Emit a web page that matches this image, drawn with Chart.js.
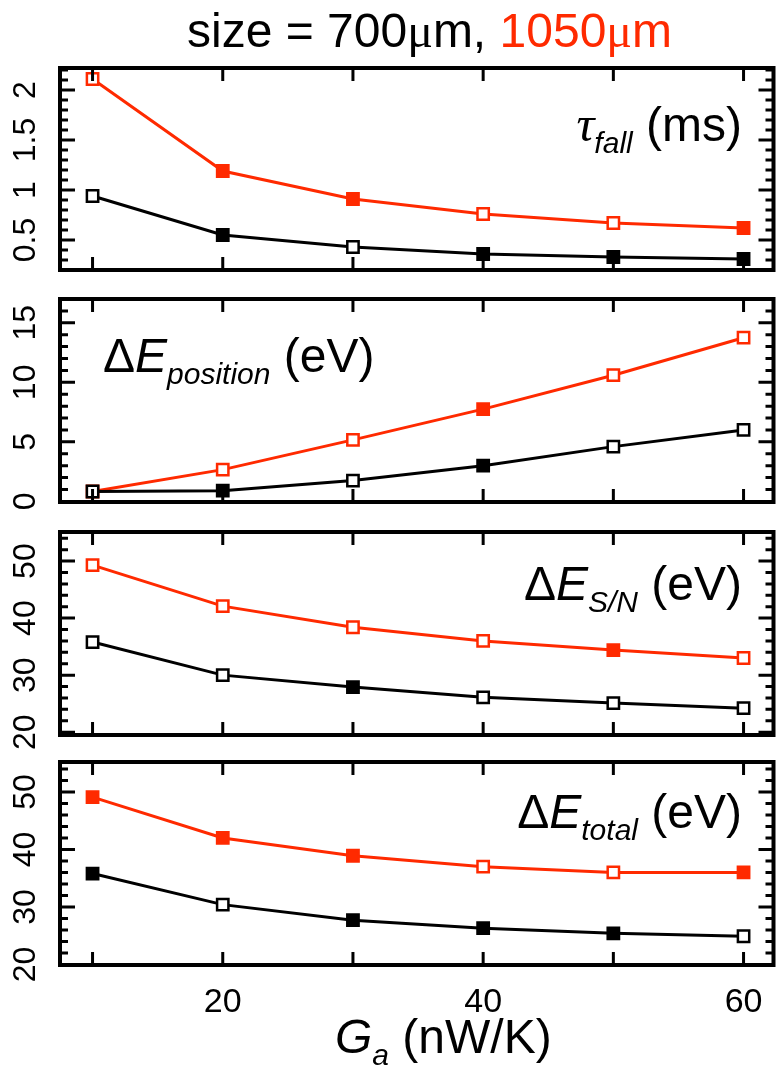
<!DOCTYPE html>
<html><head><meta charset="utf-8">
<script src="https://cdn.jsdelivr.net/npm/chart.js@4.4.1/dist/chart.umd.min.js"></script>
<style>
html,body{margin:0;padding:0;background:#fff;width:784px;height:1071px;overflow:hidden;}
canvas{position:absolute;left:0;}
</style></head><body>
<canvas id="c1"></canvas>
<canvas id="c2"></canvas>
<canvas id="c3"></canvas>
<canvas id="c4"></canvas>
<script>
// ---- data ----
const gaValues = [10, 20, 30, 40, 50, 60];          // G_a (nW/K)
const xTickLabels = [20, 40, 60];
const tauFall700  = [0.94, 0.55, 0.43, 0.36, 0.33, 0.31];
const tauFall1050 = [2.11, 1.19, 0.91, 0.76, 0.67, 0.62];
const posRes700   = [0.83, 0.90, 1.75, 3.00, 4.60, 6.00];
const posRes1050  = [0.83, 2.67, 5.17, 7.75, 10.6, 13.75];
const snRes700    = [35.8, 30.0, 27.9, 26.1, 25.1, 24.2];
const snRes1050   = [49.3, 42.1, 38.4, 36.0, 34.4, 33.0];
const totRes700   = [35.8, 30.4, 27.7, 26.3, 25.4, 24.9];
const totRes1050  = [49.1, 42.0, 38.9, 37.0, 36.0, 36.0];
const tauTicks = ['0.5', '1', '1.5', '2'];
const posTicks = ['0', '5', '10', '15'];
const snTicks  = ['20', '30', '40', '50'];
const totTicks = ['20', '30', '40', '50'];

// ---- styles ----
const RED = '#ff2a00', BLACK = '#000000';
const FONT = '"Liberation Sans", Arial, Helvetica, sans-serif';
const SERIF = '"Liberation Serif", "DejaVu Serif", serif';
// which markers look filled (style only)
const fill = {
  p1: {a: [0,1,0,1,1,1], b: [0,1,1,0,0,1]},
  p2: {a: [0,1,0,1,0,0], b: [0,0,0,1,0,0]},
  p3: {a: [0,0,1,0,0,0], b: [0,0,0,0,1,0]},
  p4: {a: [1,0,1,1,1,0], b: [1,1,1,0,0,1]}
};

function drawRich(ctx, parts, x, y, align) {
  let total = 0;
  for (const p of parts) { ctx.font = p.font; total += ctx.measureText(p.t).width; }
  let cx = align === 'right' ? x - total : (align === 'center' ? x - total / 2 : x);
  ctx.textAlign = 'left'; ctx.textBaseline = 'alphabetic';
  for (const p of parts) {
    ctx.font = p.font; ctx.fillStyle = p.color || '#000';
    ctx.fillText(p.t, cx, y + (p.dy || 0));
    cx += ctx.measureText(p.t).width;
  }
}

const framePlugin = {
  id: 'frame',
  afterDraw(chart) {
    const p = chart.options.plugins.frame;
    const {ctx, chartArea: a} = chart;
    const x = chart.scales.x, y = chart.scales.y;
    ctx.save();
    ctx.strokeStyle = '#000'; ctx.lineCap = 'butt';
    ctx.lineWidth = 3;
    ctx.beginPath();
    for (const v of gaValues) {
      const px = x.getPixelForValue(v);
      ctx.moveTo(px, a.bottom); ctx.lineTo(px, a.bottom - 13);
      ctx.moveTo(px, a.top); ctx.lineTo(px, a.top + 13);
    }
    const majorVals = p.yLabels.map(Number);
    const n = Math.round((p.yMax - p.yMin) / p.minorStep) + 2;
    for (let i = -1; i < n; i++) {
      const v = Math.round((Math.ceil(p.yMin / p.minorStep) + i) * p.minorStep * 1000) / 1000;
      if (v < p.yMin || v > p.yMax) continue;
      const isMajor = majorVals.some(m => Math.abs(m - v) < 1e-6);
      const len = isMajor ? 15 : 8;
      const py = y.getPixelForValue(v);
      ctx.moveTo(a.left, py); ctx.lineTo(a.left + len, py);
      ctx.moveTo(a.right, py); ctx.lineTo(a.right - len, py);
    }
    ctx.stroke();
    ctx.lineWidth = 4;
    ctx.strokeRect(a.left, a.top, a.right - a.left, a.bottom - a.top);
    // rotated y tick labels
    ctx.fillStyle = '#000'; ctx.font = '32px ' + FONT;
    ctx.textAlign = 'center'; ctx.textBaseline = 'alphabetic';
    p.yLabels.forEach(t => {
      const py = y.getPixelForValue(Number(t));
      ctx.save(); ctx.translate(35, py); ctx.rotate(-Math.PI / 2);
      ctx.fillText(t, 0, 0); ctx.restore();
    });
    for (const t of p.texts) drawRich(ctx, t.parts, t.x, t.y - p.top, t.align);
    ctx.restore();
  }
};

const panels = [
  {id: 'c1', top: 0, height: 290, padTop: 68, padBottom: 20, yMin: 0.2, yMax: 2.22, minorStep: 0.1,
   yLabels: tauTicks, a: tauFall700, b: tauFall1050, f: fill.p1,
   texts: [
     {x: 187, y: 47, align: 'left', parts: [
       {t: 'size = 700', font: '48px ' + FONT},
       {t: 'μ', font: '48px ' + SERIF},
       {t: 'm, ', font: '48px ' + FONT},
       {t: '1050', font: '48px ' + FONT, color: RED},
       {t: 'μ', font: '48px ' + SERIF, color: RED},
       {t: 'm', font: '48px ' + FONT, color: RED}]},
     {x: 742, y: 141, align: 'right', parts: [
       {t: 'τ', font: 'italic 50px ' + SERIF},
       {t: 'fall', font: 'italic 30px ' + FONT, dy: 12},
       {t: ' (ms)', font: '48px ' + FONT}]}
   ]},
  {id: 'c2', top: 279, height: 243, padTop: 20, padBottom: 20, yMin: -0.05, yMax: 17.0, minorStep: 1,
   yLabels: posTicks, a: posRes700, b: posRes1050, f: fill.p2,
   texts: [
     {x: 103, y: 372, align: 'left', parts: [
       {t: 'Δ', font: '48px ' + FONT},
       {t: 'E', font: 'italic 48px ' + FONT},
       {t: 'position', font: 'italic 30px ' + FONT, dy: 12},
       {t: ' (eV)', font: '48px ' + FONT}]}
   ]},
  {id: 'c3', top: 512, height: 243, padTop: 20, padBottom: 20, yMin: 19.5, yMax: 55.1, minorStep: 2,
   yLabels: snTicks, a: snRes700, b: snRes1050, f: fill.p3,
   texts: [
     {x: 742, y: 600, align: 'right', parts: [
       {t: 'Δ', font: '48px ' + FONT},
       {t: 'E', font: 'italic 48px ' + FONT},
       {t: 'S/N', font: 'italic 30px ' + FONT, dy: 12},
       {t: ' (eV)', font: '48px ' + FONT}]}
   ]},
  {id: 'c4', top: 742, height: 329, padTop: 20, padBottom: 0, yMin: 19.9, yMax: 55.2, minorStep: 2,
   yLabels: totTicks, a: totRes700, b: totRes1050, f: fill.p4, xAxis: true,
   texts: [
     {x: 742, y: 828, align: 'right', parts: [
       {t: 'Δ', font: '48px ' + FONT},
       {t: 'E', font: 'italic 48px ' + FONT},
       {t: 'total', font: 'italic 30px ' + FONT, dy: 12},
       {t: ' (eV)', font: '48px ' + FONT}]},
     {x: 335, y: 1053, align: 'left', parts: [
       {t: 'G', font: 'italic 48px ' + FONT},
       {t: 'a', font: 'italic 30px ' + FONT, dy: 12},
       {t: ' (nW/K)', font: '48px ' + FONT}]}
   ]}
];

for (const p of panels) {
  const cv = document.getElementById(p.id);
  cv.width = 784; cv.height = p.height;
  cv.style.top = p.top + 'px'; cv.style.width = '784px'; cv.style.height = p.height + 'px';
  const mk = (vals, color, f) => ({
    data: gaValues.map((g, i) => ({x: g, y: vals[i]})),
    borderColor: color, borderWidth: 3,
    pointStyle: 'rect', pointRadius: 8, pointBorderWidth: 2.5,
    pointBorderColor: color,
    pointBackgroundColor: f.map(k => k ? color : '#ffffff'),
    tension: 0, fill: false, clip: false
  });
  const xScale = {type: 'linear', min: 7.5, max: 62.3, display: !!p.xAxis,
    grid: {display: false, drawTicks: false}, border: {display: false},
    afterBuildTicks: ax => { ax.ticks = xTickLabels.map(v => ({value: v})); },
    ticks: {color: '#000', font: {family: FONT, size: 34}, padding: 17, maxRotation: 0, autoSkip: false}};
  if (p.xAxis) xScale.afterFit = ax => { ax.height = 106; };
  new Chart(cv, {
    type: 'line',
    data: {datasets: [mk(p.a, BLACK, p.f.a), mk(p.b, RED, p.f.b)]},
    options: {
      responsive: false, animation: false, devicePixelRatio: 1,
      layout: {padding: {top: p.padTop, bottom: p.padBottom, left: 60, right: 2}},
      plugins: {legend: {display: false}, tooltip: {enabled: false},
        frame: {yLabels: p.yLabels, yMin: p.yMin, yMax: p.yMax, minorStep: p.minorStep, texts: p.texts, top: p.top}},
      scales: {
        x: xScale,
        y: {type: 'linear', min: p.yMin, max: p.yMax, display: false}
      }
    },
    plugins: [framePlugin]
  });
}
</script>
</body></html>
